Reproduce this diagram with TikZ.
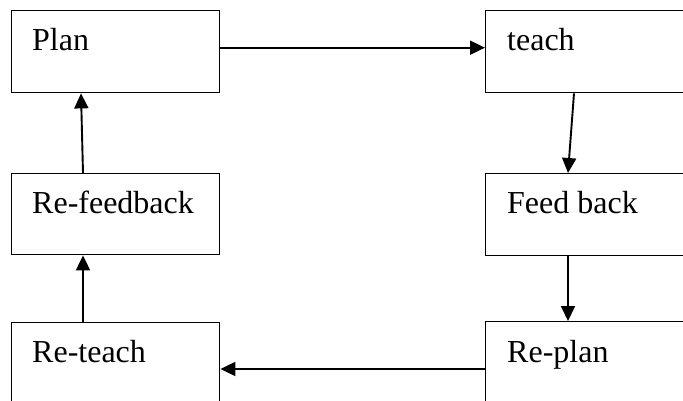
\documentclass[tikz,border=0pt]{standalone}
\usepackage{fontspec}
\setmainfont{Liberation Serif}
\usetikzlibrary{arrows.meta}
\begin{document}
\begin{tikzpicture}[x=1pt,y=-1pt,
  stagebox/.style={draw, line width=1.4pt, rectangle, anchor=north west, inner sep=0pt},
  stagetext/.style={anchor=base west, inner sep=0pt, font=\fontsize{32}{38}\selectfont},
  arr/.style={line width=1.9pt, -{Triangle[length=15pt,width=14pt]}}]
  \useasboundingbox (0,0) rectangle (683,401);
  % left column
  \node[stagebox, minimum width=208pt, minimum height=82pt] (plan) at (11,10) {};
  \node[stagebox, minimum width=208pt, minimum height=81pt] (refeed) at (11,173) {};
  \node[stagebox, minimum width=208pt, minimum height=100pt] (reteach) at (11,322) {};
  % right column (runs past the page edge)
  \node[stagebox, minimum width=230pt, minimum height=82pt] (teach) at (485,10) {};
  \node[stagebox, minimum width=230pt, minimum height=82pt] (feed) at (485,173) {};
  \node[stagebox, minimum width=230pt, minimum height=100pt] (replan) at (485,321) {};
  % labels
  \node[stagetext] (tplan) at (32,51) {Plan};
  \node[stagetext] (trefeed) at (32,214) {Re-feedback};
  \node[stagetext] (treteach) at (32,362) {Re-teach};
  \node[stagetext] (tteach) at (507,51) {teach};
  \node[stagetext] (tfeed) at (507,214) {Feed back};
  \node[stagetext] (treplan) at (507,362) {Re-plan};
  % cycle
  \draw[arr] ([yshift=4pt]plan.east) -- ([yshift=4pt]plan.east -| teach.west);
  \draw[arr] ([xshift=89pt]teach.south west) -- ([xshift=83pt]feed.north west);
  \draw[arr] ([xshift=83pt]feed.south west) -- ([xshift=83pt]replan.north west);
  \draw[arr] ([yshift=-48pt]replan.north west) -- ([yshift=-48pt]replan.north west -| reteach.east);
  \draw[arr] ([xshift=72pt]reteach.north west) -- ([xshift=72pt]refeed.south west);
  \draw[arr] ([xshift=72pt]refeed.north west) -- ([xshift=70pt]plan.south west);
\end{tikzpicture}
\end{document}
